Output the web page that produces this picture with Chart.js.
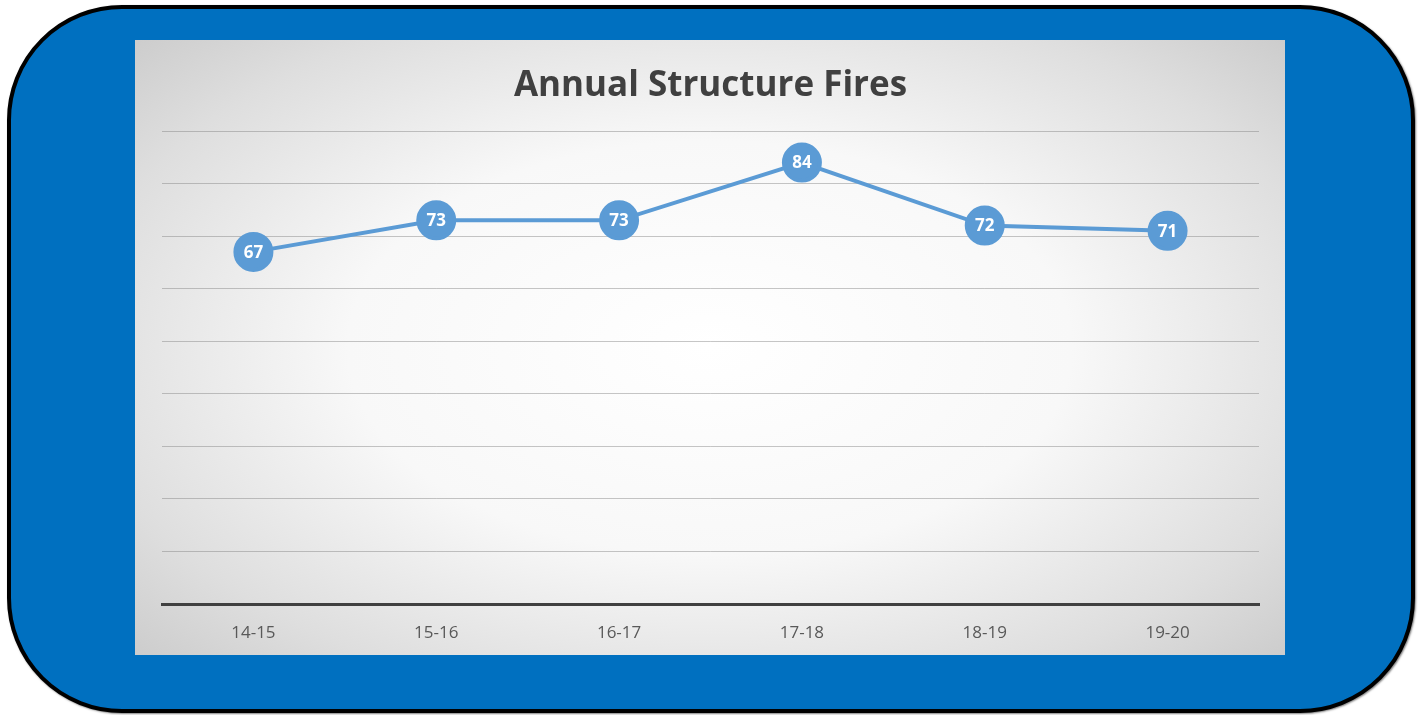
<!DOCTYPE html>
<html lang="en">
<head>
  <meta charset="UTF-8">
  <title>Annual Structure Fires</title>
  <script src="https://cdn.jsdelivr.net/npm/chart.js"></script>
  <style>
    html, body {
      margin: 0;
      padding: 0;
      background: #ffffff;
      width: 1423px;
      height: 715px;
      overflow: hidden;
    }
    .frame {
      position: absolute;
      left: 7px;
      top: 5px;
      width: 1400px;
      height: 700px;
      background: #0070c0;
      border: 4px solid #000000;
      border-radius: 115px;
      box-shadow: 1px 1px 2px rgba(0,0,0,0.5);
    }
    .panel {
      position: absolute;
      left: 135px;
      top: 40px;
      width: 1150px;
      height: 615px;
      background: radial-gradient(ellipse 75% 80% at 50% 50%, #ffffff 0%, #f8f8f8 42%, #dedede 74%, #c4c4c4 100%);
    }
  </style>
</head>
<body>
  <div class="frame"></div>
  <div class="panel">
    <canvas id="chart" width="1150" height="615"></canvas>
  </div>

  <script>
    // Chart data
    const seasons = ["14-15", "15-16", "16-17", "17-18", "18-19", "19-20"];
    const fires = [67, 73, 73, 84, 72, 71];
    const yTicks = [0, 10, 20, 30, 40, 50, 60, 70, 80, 90];

    // Writes the value in the middle of each point
    const pointLabels = {
      id: 'pointLabels',
      afterDatasetsDraw(chart) {
        const ctx = chart.ctx;
        const meta = chart.getDatasetMeta(0);
        ctx.save();
        ctx.fillStyle = '#ffffff';
        ctx.font = 'bold 17px "Open Sans", sans-serif';
        ctx.textAlign = 'center';
        ctx.textBaseline = 'middle';
        meta.data.forEach((pt, i) => {
          ctx.fillText(fires[i], pt.x, pt.y + 1);
        });
        ctx.restore();
      }
    };

    new Chart(document.getElementById('chart'), {
      type: 'line',
      data: {
        labels: seasons,
        datasets: [{
          data: fires,
          borderColor: '#5b9bd5',
          borderWidth: 4,
          backgroundColor: '#5b9bd5',
          pointBackgroundColor: '#5b9bd5',
          pointBorderColor: '#5b9bd5',
          pointRadius: 18,
          pointHoverRadius: 18,
          tension: 0
        }]
      },
      options: {
        responsive: false,
        animation: false,
        events: [],
        layout: {
          padding: { left: 27, right: 26, top: 0, bottom: 0 }
        },
        plugins: {
          legend: { display: false },
          tooltip: { enabled: false },
          title: {
            display: true,
            text: 'Annual Structure Fires',
            color: '#404040',
            font: { family: '"Open Sans", sans-serif', size: 35, weight: 'bold' },
            padding: { top: 25, bottom: 24 }
          }
        },
        scales: {
          x: {
            offset: true,
            grid: { display: false },
            border: { display: true, color: '#404040', width: 3 },
            ticks: {
              color: '#595959',
              font: { family: '"Open Sans", sans-serif', size: 17 },
              padding: 11
            },
            afterFit(axis) {
              axis.height = 51;
            }
          },
          y: {
            min: 0,
            max: 90,
            afterBuildTicks(axis) {
              axis.ticks = yTicks.map(v => ({ value: v }));
            },
            afterFit(axis) {
              axis.width = 0;
            },
            border: { display: false },
            ticks: { display: false },
            grid: {
              drawTicks: false,
              color: ctx => ctx.tick.value === 0 ? 'rgba(0,0,0,0)' : 'rgba(128,128,128,0.45)',
              lineWidth: 1
            }
          }
        }
      },
      plugins: [pointLabels]
    });
  </script>
</body>
</html>
